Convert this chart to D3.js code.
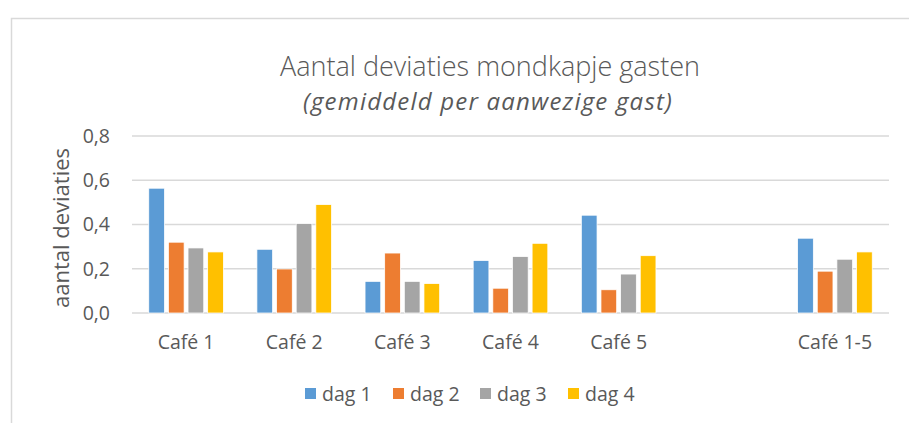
<!DOCTYPE html>
<html>
<head>
<meta charset="utf-8">
<script src="https://cdn.jsdelivr.net/npm/d3@7"></script>
<style>
  body { margin: 0; background: #fff; }
  svg text { font-family: "Open Sans", sans-serif; fill: #595959; }
</style>
</head>
<body>
<svg id="chart" width="909" height="423"></svg>
<script>
// categories (the empty slot keeps the gap before the total)
const cafes = ["Café 1", "Café 2", "Café 3", "Café 4", "Café 5", "", "Café 1-5"];
const dagen = ["dag 1", "dag 2", "dag 3", "dag 4"];
const dag1 = [0.564, 0.288, 0.143, 0.237, 0.442, null, 0.338];
const dag2 = [0.320, 0.199, 0.271, 0.112, 0.105, null, 0.189];
const dag3 = [0.294, 0.404, 0.143, 0.255, 0.176, null, 0.243];
const dag4 = [0.276, 0.490, 0.133, 0.315, 0.259, null, 0.276];
const yTicks = [0, 0.2, 0.4, 0.6, 0.8];
const colors = ["#5B9BD5", "#ED7D31", "#A5A5A5", "#FFC000"];

const series = [dag1, dag2, dag3, dag4];

const svg = d3.select("#chart");
const margin = {left: 132, right: 20, top: 136, bottom: 110};
const width = 909, height = 423;

// chart frame
svg.append("path")
    .attr("d", `M11.5,${height} V18.5 H${width}`)
    .attr("fill", "none")
    .attr("stroke", "#d9d9d9")
    .attr("stroke-width", 1.5);

let x0 = d3.scaleBand()
    .domain(d3.range(cafes.length))
    .range([margin.left, width - margin.right])
    .paddingInner(0.31)
    .paddingOuter(0.155);

let x1 = d3.scaleBand()
    .domain(d3.range(dagen.length))
    .range([0, x0.bandwidth()])
    .paddingInner(0.2);

let y = d3.scaleLinear()
    .domain([0, 0.8])
    .range([313, 136]);

const fmt = d => d3.format(".1f")(d).replace(".", ",");

// gridlines
svg.append("g")
    .selectAll("line")
    .data(yTicks)
    .enter().append("line")
    .attr("x1", margin.left)
    .attr("x2", width - margin.right)
    .attr("y1", d => y(d))
    .attr("y2", d => y(d))
    .attr("stroke", "#d9d9d9")
    .attr("stroke-width", 1.5);

// y tick labels
svg.append("g")
    .selectAll("text")
    .data(yTicks)
    .enter().append("text")
    .attr("x", 110)
    .attr("y", d => y(d))
    .attr("dy", "0.35em")
    .attr("text-anchor", "end")
    .style("font-size", "19.5px")
    .text(fmt);

// bars
svg.append("g")
    .selectAll("g")
    .data(series)
    .enter().append("g")
    .attr("fill", (d, i) => colors[i])
    .each(function(vals, si) {
        d3.select(this).selectAll("rect")
            .data(vals.map((v, ci) => ({v, ci})).filter(d => d.v != null))
            .enter().append("rect")
            .attr("x", d => x0(d.ci) + x1(si))
            .attr("width", x1.bandwidth())
            .attr("y", d => y(d.v))
            .attr("height", d => y(0) - y(d.v))
            .attr("stroke", "#fff")
            .attr("stroke-width", 0.75);
    });

// category labels
svg.append("g")
    .selectAll("text")
    .data(cafes)
    .enter().append("text")
    .attr("x", (d, i) => x0(i) + x0.bandwidth() / 2)
    .attr("y", 349)
    .attr("text-anchor", "middle")
    .style("font-size", "19.5px")
    .text(d => d);

// axis title
svg.append("text")
    .attr("transform", "translate(61,228) rotate(-90)")
    .attr("text-anchor", "middle")
    .attr("dy", "0.35em")
    .style("font-size", "22px")
    .text("aantal deviaties");

// titles
svg.append("text")
    .attr("x", 490)
    .attr("y", 76)
    .attr("text-anchor", "middle")
    .style("font-size", "27px")
    .style("font-weight", 300)
    .text("Aantal deviaties mondkapje gasten");

svg.append("text")
    .attr("x", 488)
    .attr("y", 110)
    .attr("text-anchor", "middle")
    .style("font-size", "24px")
    .style("font-style", "italic")
    .style("letter-spacing", "1.2px")
    .text("(gemiddeld per aanwezige gast)");

// legend
const legendX = [305, 393, 480, 568];
let legend = svg.append("g")
    .selectAll("g")
    .data(dagen)
    .enter().append("g")
    .attr("transform", (d, i) => `translate(${legendX[i]},393)`);

legend.append("rect")
    .attr("x", 0)
    .attr("y", -5)
    .attr("width", 11)
    .attr("height", 11)
    .attr("fill", (d, i) => colors[i]);

legend.append("text")
    .attr("x", 17)
    .attr("y", 8)
    .style("font-size", "19.5px")
    .text(d => d);
</script>
</body>
</html>
